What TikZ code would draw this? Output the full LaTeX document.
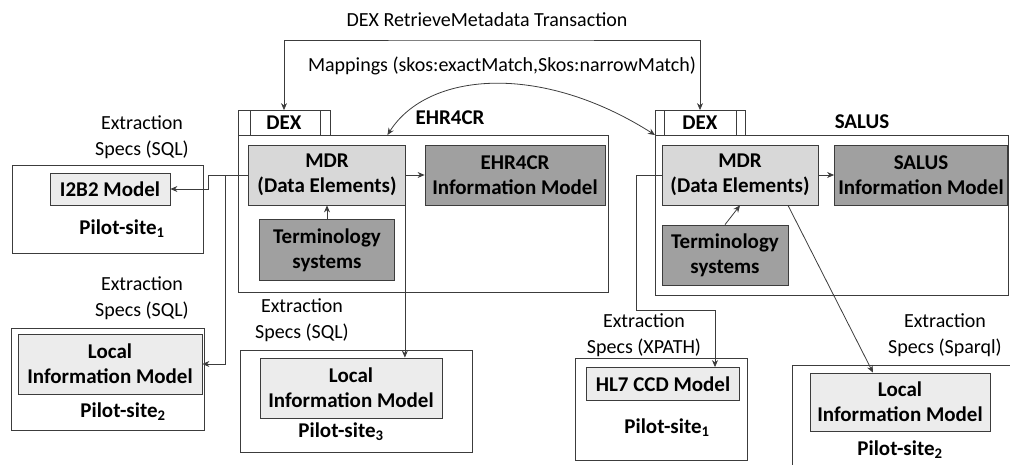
\documentclass[tikz,border=0pt]{standalone}
\usepackage{fontspec}
\setmainfont{Carlito}
\usepackage{tikz}
\usetikzlibrary{arrows.meta, positioning, calc}
\definecolor{myline}{RGB}{60,60,60}
\definecolor{mdrfill}{RGB}{216,216,216}
\definecolor{modfill}{RGB}{236,236,236}
\definecolor{darkfill}{RGB}{160,160,160}
\newcommand{\figfont}{\fontsize{20}{25}\selectfont}
\newcommand{\boldfont}{\fontsize{21}{25}\selectfont\bfseries}
\tikzset{
  sysbox/.style={rectangle, draw=myline, line width=0.9pt, inner sep=0pt},
  mdrbox/.style={rectangle, draw=myline, fill=mdrfill, line width=0.8pt,
    align=center, inner sep=1pt, font=\boldfont},
  darkbox/.style={rectangle, draw=myline, fill=darkfill, line width=0.8pt,
    align=center, inner sep=1pt, font=\boldfont},
  modelbox/.style={rectangle, draw=myline, fill=modfill, line width=0.8pt,
    align=center, inner sep=1pt, font=\boldfont},
  dextab/.style={rectangle, draw=myline, line width=0.8pt,
    minimum width=92, minimum height=25, font=\boldfont},
  sysname/.style={font=\boldfont},
  sitename/.style={font=\boldfont},
  speclbl/.style={align=center, font=\fontsize{20}{26}\selectfont},
  arrow/.style={-{Stealth[length=7pt,width=6pt]}, line width=0.8pt, color=myline},
  dblarrow/.style={{Stealth[length=7pt,width=6pt]}-{Stealth[length=7pt,width=6pt]},
    line width=0.8pt, color=myline}
}

\begin{document}
\begin{tikzpicture}[x=1pt, y=-1pt, every node/.style={font=\figfont}]
  \useasboundingbox (0,0) rectangle (1010,465);
  \clip (0,0) rectangle (1010,465);

  % EHR4CR system
  \node[dextab] (dexA) at (284,123) {DEX};
  \draw[myline, line width=0.8pt] ($(dexA.north west)+(13,0)$) -- ($(dexA.south west)+(13,0)$);
  \draw[myline, line width=0.8pt] ($(dexA.north east)+(-10,0)$) -- ($(dexA.south east)+(-10,0)$);
  \node[sysbox, minimum width=370, minimum height=157, anchor=north west] (ehrSys) at (238,135) {};
  \node[sysname] (ehrName) at (450,118) {EHR4CR};
  \node[mdrbox, minimum width=157, minimum height=60] (ehrMdr) at (327,175) {MDR\\(Data Elements)};
  \node[darkbox, minimum width=180, minimum height=60] (ehrInfo) at (515,175) {EHR4CR\\Information Model};
  \node[darkbox, minimum width=135, minimum height=61] (ehrTerm) at (327,250) {Terminology\\systems};

  % SALUS system
  \node[dextab, minimum width=90] (dexB) at (700,123) {DEX};
  \draw[myline, line width=0.8pt] ($(dexB.north west)+(10,0)$) -- ($(dexB.south west)+(10,0)$);
  \draw[myline, line width=0.8pt] ($(dexB.north east)+(-9,0)$) -- ($(dexB.south east)+(-9,0)$);
  \node[sysbox, minimum width=353, minimum height=160, anchor=north west] (salusSys) at (655,135) {};
  \node[sysname] (salusName) at (862,122) {SALUS};
  \node[mdrbox, minimum width=156, minimum height=60] (salusMdr) at (740,175) {MDR\\(Data Elements)};
  \node[darkbox, minimum width=173, minimum height=60] (salusInfo) at (921,175) {SALUS\\Information Model};
  \node[darkbox, minimum width=126, minimum height=60] (salusTerm) at (725,255) {Terminology\\systems};

  % Pilot sites of EHR4CR
  \node[sysbox, minimum width=191, minimum height=88] (siteA1) at (108,209) {};
  \node[modelbox, minimum width=120, minimum height=32] (i2b2) at (110,189) {I2B2 Model};
  \node[sitename] (siteA1name) at (122,229) {Pilot-site\textsubscript{1}};
  \node[speclbl] (specA1) at (142,137) {Extraction\\Specs (SQL)};

  \node[sysbox, minimum width=193, minimum height=102] (siteA2) at (108,379) {};
  \node[modelbox, minimum width=184, minimum height=60] (localA2) at (110,364) {Local\\Information Model};
  \node[sitename] (siteA2name) at (123,412) {Pilot-site\textsubscript{2}};
  \node[speclbl] (specA2) at (142,298) {Extraction\\Specs (SQL)};

  \node[sysbox, minimum width=232, minimum height=102] (siteA3) at (356,401) {};
  \node[modelbox, minimum width=182, minimum height=60] (localA3) at (351,388) {Local\\Information Model};
  \node[sitename] (siteA3name) at (341,432) {Pilot-site\textsubscript{3}};
  \node[speclbl] (specA3) at (302,320) {Extraction\\Specs (SQL)};

  % Pilot sites of SALUS
  \node[sysbox, minimum width=172, minimum height=102] (siteB1) at (661,409) {};
  \node[modelbox, minimum width=153, minimum height=33] (hl7) at (663,384) {HL7 CCD Model};
  \node[sitename] (siteB1name) at (667,428) {Pilot-site\textsubscript{1}};
  \node[speclbl] (specB1) at (644,335) {Extraction\\Specs (XPATH)};

  \node[sysbox, minimum width=230, minimum height=120, anchor=north west] (siteB2) at (792,365) {};
  \node[modelbox, minimum width=180, minimum height=58] (localB2) at (900,402) {Local\\Information Model};
  \node[sitename] (siteB2name) at (900,450) {Pilot-site\textsubscript{2}};
  \node[speclbl] (specB2) at (945,335) {Extraction\\Specs (Sparql)};

  % Transaction and mappings
  \node (txName) at (487,20) {DEX RetrieveMetadata Transaction};
  \node (mapName) at (502,66) {Mappings (skos:exactMatch,Skos:narrowMatch)};
  \coordinate (txTop) at (490,40);
  \draw[dblarrow] (dexA.north) |- (txTop) -| (dexB.north);
  \coordinate (mapL) at ($(ehrSys.north)+(-36,0)$);
  \draw[dblarrow] (mapL) .. controls ($(mapL)+(40,-63)$) and ($(salusSys.north west)+(-115,-73)$) .. (salusSys.north west);

  % EHR4CR connectors
  \draw[arrow] (ehrMdr) -- (ehrInfo);
  \draw[arrow] (ehrTerm.north) -- (ehrTerm.north |- ehrMdr.south);
  \draw[arrow] (ehrMdr.west) -- ++(-40,0) |- (i2b2.east);
  \draw[arrow] (ehrMdr.west) -- ++(-23,0) |- (localA2.east);
  \coordinate (dropA) at ($(ehrMdr.south east)+(-1,0)$);
  \draw[arrow] (dropA) -- (dropA |- localA3.north);

  % SALUS connectors
  \draw[arrow] (salusMdr) -- (salusInfo);
  \draw[arrow] (salusTerm.north) -- (salusMdr.south);
  \coordinate (xpTurn) at ($(hl7.north)+(52,-57)$);
  \draw[arrow] (salusMdr.west) -- ++(-25,0) |- (xpTurn) -- (xpTurn |- hl7.north);
  \draw[arrow] ($(salusMdr.south)+(48,0)$) -- ($(localB2.north)+(-27,0)$);
\end{tikzpicture}
\end{document}
